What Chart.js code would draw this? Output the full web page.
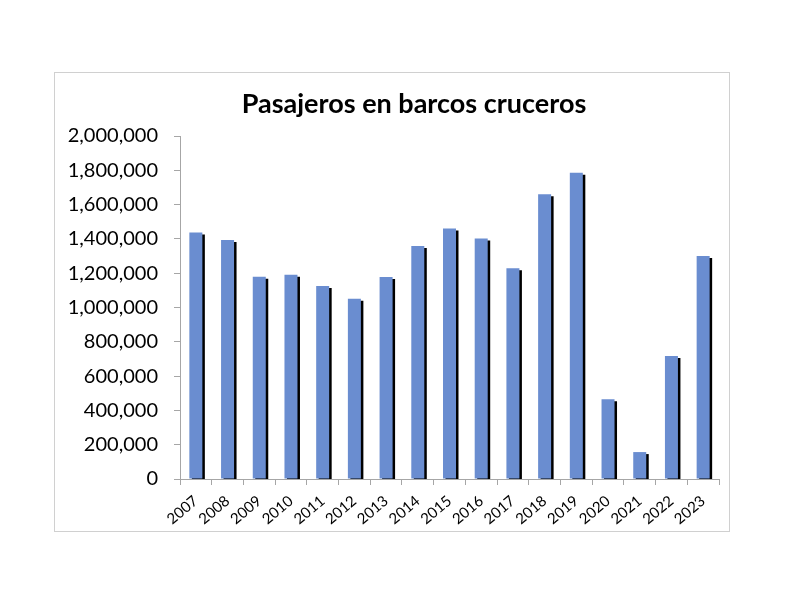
<!DOCTYPE html>
<html>
<head>
<meta charset="utf-8">
<script src="https://cdn.jsdelivr.net/npm/chart.js@4"></script>
<style>
  html, body { margin: 0; padding: 0; background: #fff; }
  #wrap { position: relative; width: 792px; height: 612px; }
  #marco { position: absolute; left: 54px; top: 72px; width: 674px; height: 458px; border: 1px solid #d0d0d0; }
  #grafico { position: absolute; left: 0; top: 0; }
</style>
</head>
<body>
<div id="wrap">
  <div id="marco"></div>
  <canvas id="grafico" width="792" height="612"></canvas>
</div>
<script>
const titulo = 'Pasajeros en barcos cruceros';
const anios = ['2007', '2008', '2009', '2010', '2011', '2012', '2013', '2014', '2015',
  '2016', '2017', '2018', '2019', '2020', '2021', '2022', '2023'];
const pasajeros = [1437000, 1394000, 1180000, 1191000, 1125000, 1051000, 1178000, 1359000, 1460000,
  1403000, 1229000, 1660000, 1786000, 465000, 157000, 717000, 1300000];
const yMax = 2000000;
const yPaso = 200000;

// sombra negra de las barras, como en el original de Excel
const sombraBarras = {
  id: 'sombraBarras',
  beforeDatasetsDraw(chart) {
    const ctx = chart.ctx;
    ctx.save();
    ctx.shadowColor = '#000';
    ctx.shadowOffsetX = 2.5;
    ctx.shadowOffsetY = 2;
    ctx.shadowBlur = 0;
  },
  afterDatasetsDraw(chart) {
    chart.ctx.restore();
  },
};

// titulo dibujado a mano para poder centrarlo como en la imagen
const tituloPlugin = {
  id: 'tituloPlugin',
  afterDraw(chart) {
    const ctx = chart.ctx;
    ctx.save();
    ctx.font = 'bold 27px Lato, "Open Sans", sans-serif';
    ctx.fillStyle = '#000';
    ctx.textAlign = 'center';
    ctx.textBaseline = 'middle';
    ctx.fillText(titulo, 414, 104);
    ctx.restore();
  },
};

const ctx = document.getElementById('grafico').getContext('2d');
new Chart(ctx, {
  type: 'bar',
  data: {
    labels: anios,
    datasets: [
      {
        label: 'Pasajeros',
        data: pasajeros,
        backgroundColor: '#6a8dd0',
        borderWidth: 0,
        categoryPercentage: 1,
        barPercentage: 0.41,
      },
    ],
  },
  options: {
    responsive: false,
    animation: false,
    layout: { padding: { left: 54, right: 73, top: 136, bottom: 0 } },
    plugins: {
      legend: { display: false },
      title: { display: false },
      tooltip: { enabled: false },
    },
    scales: {
      x: {
        afterFit: (scale) => { scale.height = 133; },
        grid: { offset: true, drawOnChartArea: false, tickLength: 6, color: '#a6a6a6' },
        border: { color: '#a6a6a6' },
        ticks: {
          color: '#000',
          font: { family: 'Lato', size: 15 },
          autoSkip: false,
          maxRotation: 40,
          minRotation: 40,
          padding: 7,
        },
      },
      y: {
        min: 0,
        max: yMax,
        afterFit: (scale) => { scale.width = 126; },
        grid: { drawOnChartArea: false, tickLength: 6, color: '#a6a6a6' },
        border: { color: '#a6a6a6' },
        ticks: {
          stepSize: yPaso,
          color: '#000',
          font: { family: 'Lato', size: 20 },
          padding: 16,
          callback: function (value) {
            return value.toLocaleString('en-US');
          },
        },
      },
    },
  },
  plugins: [sombraBarras, tituloPlugin],
});
</script>
</body>
</html>
